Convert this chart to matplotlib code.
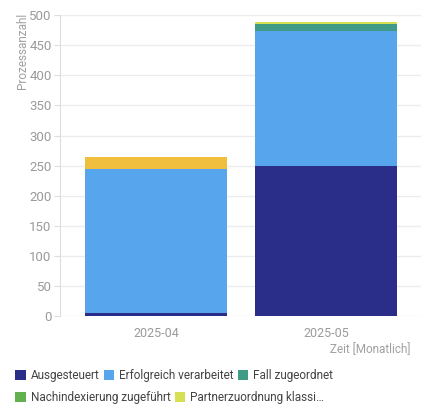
import numpy as np
import matplotlib.pyplot as plt
from matplotlib.patches import Patch

plt.rcParams['font.family'] = ['Roboto', 'DejaVu Sans']

# Daten
months = ["2025-04", "2025-05"]
ausgesteuert = [6, 250]
erfolgreich = [239, 223]
fall_zugeordnet = [0, 12]
nachindexierung = [0, 0]
partnerzuordnung = [0, 4]
sonstige = [19, 0]  # orange Serie (nicht in sichtbarer Legende)

series = [
    ("Ausgesteuert", ausgesteuert, "#2a2e88"),
    ("Erfolgreich verarbeitet", erfolgreich, "#57a5ec"),
    ("Fall zugeordnet", fall_zugeordnet, "#3f9a86"),
    ("Nachindexierung zugeführt", nachindexierung, "#62b04e"),
    ("Partnerzuordnung klassi…", partnerzuordnung, "#d6e052"),
    ("_sonstige", sonstige, "#f1bf3e"),
]

fig = plt.figure(figsize=(4.25, 4.09), dpi=100)
ax = fig.add_axes([0.141, 0.227, 0.85, 0.736])

x = np.arange(len(months))
bottom = np.zeros(len(months))
for name, vals, col in series:
    ax.bar(x, vals, bottom=bottom, width=0.835, color=col, label=name, zorder=3)
    bottom += np.array(vals)

ax.set_ylim(0, 500)
ax.set_xlim(-0.568, 1.56)
ax.set_yticks(np.arange(0, 501, 50))
ax.set_xticks(x)
ax.set_xticklabels(months)
ax.grid(axis='y', color='#ececec', linewidth=1, zorder=0)

for s in ['top', 'right', 'bottom']:
    ax.spines[s].set_visible(False)
ax.spines['left'].set_color('#dddddd')
ax.tick_params(axis='y', colors='#dddddd', labelcolor='#9a9a9a', labelsize=9.5, length=4, pad=2)
ax.tick_params(axis='x', length=0, labelcolor='#9a9a9a', labelsize=9, pad=8)

fig.text(0.052, 0.97, "Prozessanzahl", rotation=90, ha='center', va='top', color='#a0a0a0', fontsize=8.5)
fig.text(0.965, 0.145, "Zeit [Monatlich]", ha='right', va='center', color='#a0a0a0', fontsize=8.5)

# Legende in zwei Zeilen
handles = [Patch(facecolor=c, label=n) for n, v, c in series if not n.startswith('_')]
leg_kw = dict(frameon=False, fontsize=8.5, handlelength=0.9, handleheight=0.9,
              handletextpad=0.4, columnspacing=0.35, borderaxespad=0, labelcolor='#444444')
l1 = fig.legend(handles=handles[:3], ncol=3, loc='center left', bbox_to_anchor=(0.025, 0.081), **leg_kw)
l2 = fig.legend(handles=handles[3:], ncol=2, loc='center left', bbox_to_anchor=(0.025, 0.027), **leg_kw)

plt.savefig("out.png", dpi=100)
